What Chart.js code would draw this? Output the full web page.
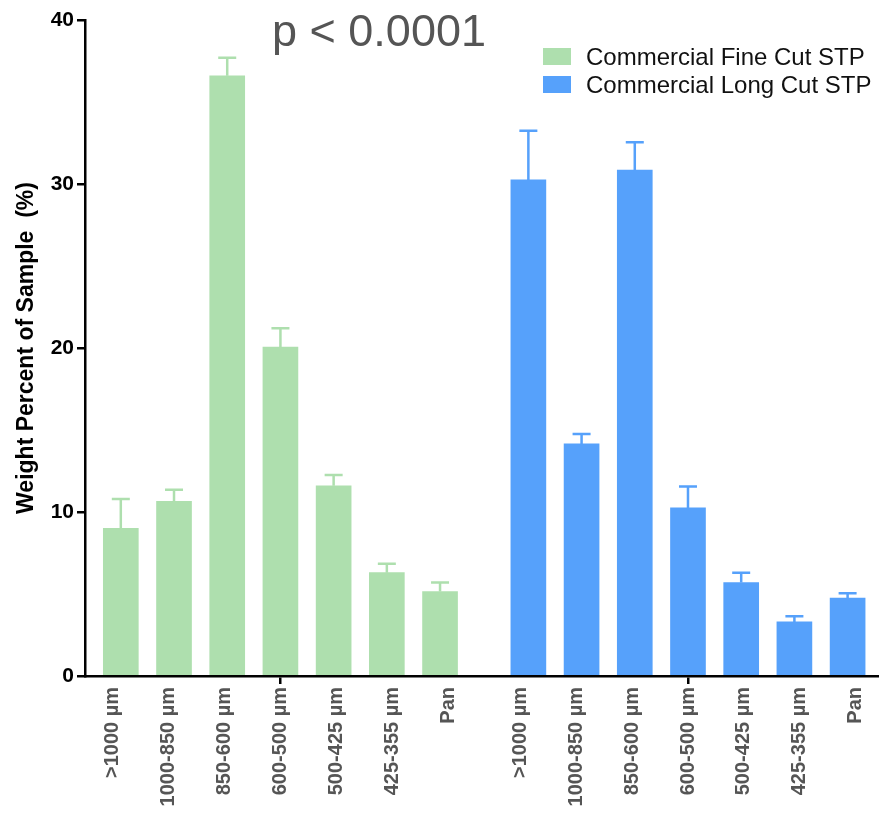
<!DOCTYPE html>
<html>
<head>
<meta charset="utf-8">
<title>Sieve fractions of commercial STP</title>
<script src="https://cdn.jsdelivr.net/npm/chart.js@4/dist/chart.umd.min.js"></script>
<style>
    html, body { margin: 0; padding: 0; background: #fff; }
    #wrap { width: 879px; height: 815px; position: relative; }
</style>
</head>
<body>
<div id="wrap"><canvas id="sieveChart"></canvas></div>
<script>
// Sieve size classes (same for both products)
const sizeClasses = ['>1000 µm', '1000-850 µm', '850-600 µm', '600-500 µm', '500-425 µm', '425-355 µm', 'Pan'];

// Weight percent of sample, mean and upper error
const fineCutMeans  = [9.0, 10.65, 36.6, 20.05, 11.6, 6.3, 5.15];
const fineCutErrors = [1.8, 0.7, 1.1, 1.15, 0.65, 0.55, 0.55];
const longCutMeans  = [30.25, 14.15, 30.85, 10.25, 5.7, 3.3, 4.75];
const longCutErrors = [3.0, 0.6, 1.7, 1.3, 0.6, 0.35, 0.3];

const seriesNames = ['Commercial Fine Cut STP', 'Commercial Long Cut STP'];
const seriesColors = ['#AEDFAE', '#56A1FB'];
const yTicks = [0, 10, 20, 30, 40];
const pValueText = 'p < 0.0001';

const FONT = "'Liberation Sans', Arial, Helvetica, sans-serif";
Chart.defaults.font.family = FONT;

// extra room between the two groups, in bar slots
const GROUP_GAP = 0.66;
// the labels in the original are spread a bit wider than the bars
const LABEL_SPREAD = 0.05;
const MID = 3;

function slotOf(group, i) {
    return group * (sizeClasses.length + GROUP_GAP) + i;
}

const labelSlots = [];
[0, 1].forEach(g => sizeClasses.forEach((c, i) => labelSlots.push(slotOf(g, i) + (i - MID) * LABEL_SPREAD)));

function makeDataset(group, means, errors) {
    return {
        label: seriesNames[group],
        data: means.map((v, i) => ({ x: slotOf(group, i), y: v })),
        errors: errors,
        backgroundColor: seriesColors[group],
        borderWidth: 0,
        barThickness: 35,
        grouped: false
    };
}

// upward-only error bars, drawn through the scales
const errorBarPlugin = {
    id: 'errorBars',
    afterDatasetsDraw(chart) {
        const ctx = chart.ctx;
        const yScale = chart.scales.y;
        chart.data.datasets.forEach((ds, di) => {
            const meta = chart.getDatasetMeta(di);
            ctx.save();
            ctx.strokeStyle = ds.backgroundColor;
            ctx.lineWidth = 2.5;
            meta.data.forEach((bar, i) => {
                const top = yScale.getPixelForValue(ds.data[i].y + ds.errors[i]);
                ctx.beginPath();
                ctx.moveTo(bar.x, bar.y);
                ctx.lineTo(bar.x, top);
                ctx.moveTo(bar.x - 9, top);
                ctx.lineTo(bar.x + 9, top);
                ctx.stroke();
            });
            ctx.restore();
        });
    }
};

// legend in the top right corner and the p-value note
const annotationPlugin = {
    id: 'annotations',
    afterDraw(chart) {
        const ctx = chart.ctx;
        ctx.save();
        chart.data.datasets.forEach((ds, i) => {
            const y = 48 + i * 28;
            ctx.fillStyle = ds.backgroundColor;
            ctx.fillRect(543, y, 28, 17);
            ctx.fillStyle = '#111';
            ctx.font = '24px ' + FONT;
            ctx.textAlign = 'left';
            ctx.textBaseline = 'alphabetic';
            ctx.fillText(ds.label, 586, y + 17);
        });
        ctx.fillStyle = '#555';
        ctx.font = '45px ' + FONT;
        ctx.textAlign = 'center';
        ctx.fillText(pValueText, 379, 46);
        ctx.restore();
    }
};

new Chart(document.getElementById('sieveChart'), {
    type: 'bar',
    data: {
        datasets: [
            makeDataset(0, fineCutMeans, fineCutErrors),
            makeDataset(1, longCutMeans, longCutErrors)
        ]
    },
    options: {
        responsive: true,
        maintainAspectRatio: false,
        animation: false,
        layout: { padding: { top: 20, right: 0, left: 0, bottom: 0 } },
        plugins: {
            legend: { display: false },
            tooltip: { enabled: false }
        },
        scales: {
            x: {
                type: 'linear',
                offset: false,
                min: -0.673,
                max: 14.25,
                afterBuildTicks: scale => {
                    scale.ticks = labelSlots.map(v => ({ value: v }));
                },
                afterFit: scale => {
                    scale.height = 139;
                    scale.paddingLeft = 0;
                    scale.paddingRight = 0;
                },
                ticks: {
                    autoSkip: false,
                    minRotation: 90,
                    maxRotation: 90,
                    padding: 3,
                    color: '#555',
                    font: { size: 20, weight: 'bold' },
                    callback: (value, index) => sizeClasses[index % sizeClasses.length]
                },
                grid: {
                    offset: false,
                    drawOnChartArea: false,
                    tickLength: 8,
                    lineWidth: 2.5,
                    color: c => (c.index % sizeClasses.length === MID ? '#000' : 'rgba(0,0,0,0)')
                },
                border: { display: true, color: '#000', width: 2.5 }
            },
            y: {
                min: 0,
                max: 40,
                afterBuildTicks: scale => {
                    scale.ticks = yTicks.map(v => ({ value: v }));
                },
                afterFit: scale => { scale.width = 85; },
                ticks: {
                    padding: 3,
                    color: '#000',
                    font: { size: 21, weight: 'bold' }
                },
                grid: {
                    drawOnChartArea: false,
                    tickLength: 8,
                    lineWidth: 2.5,
                    color: '#000'
                },
                border: { display: true, color: '#000', width: 2.5 },
                title: {
                    display: true,
                    text: 'Weight Percent of Sample  (%)',
                    color: '#000',
                    font: { size: 23, weight: 'bold' },
                    padding: { top: 13, bottom: 0 }
                }
            }
        }
    },
    plugins: [errorBarPlugin, annotationPlugin]
});
</script>
</body>
</html>
